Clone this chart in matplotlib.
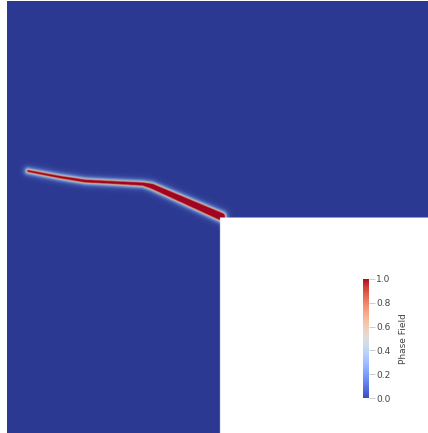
import numpy as np
import matplotlib
matplotlib.use("Agg")
import matplotlib.pyplot as plt
from matplotlib.colors import LinearSegmentedColormap

# crack path (domain coordinates, L-shape with re-entrant corner at 0.5,0.5)
crack_x = [0.049, 0.124, 0.183, 0.242, 0.319, 0.340, 0.503]
crack_y = [0.607, 0.593, 0.584, 0.581, 0.577, 0.572, 0.502]
crack_w = [0.003, 0.004, 0.005, 0.005, 0.006, 0.010, 0.016]  # red core width
cbar_ticks = [0.0, 0.2, 0.4, 0.6, 0.8, 1.0]

n = 800
xs = np.linspace(0, 1, n)
X, Y = np.meshgrid(xs, xs)
dist = np.full(X.shape, 10.0)
for i in range(len(crack_x) - 1):
    ax_, ay_ = crack_x[i], crack_y[i]
    bx, by = crack_x[i + 1], crack_y[i + 1]
    dx, dy = bx - ax_, by - ay_
    t = ((X - ax_) * dx + (Y - ay_) * dy) / (dx * dx + dy * dy)
    t = np.clip(t, 0, 1)
    w = crack_w[i] + t * (crack_w[i + 1] - crack_w[i])
    d = np.hypot(X - (ax_ + t * dx), Y - (ay_ + t * dy)) - w / 2
    dist = np.minimum(dist, d)
phi = np.exp(-np.maximum(dist, 0) / 0.004)
phi[(X > 0.5) & (Y < 0.5)] = np.nan

# shaded version of cool-to-warm for the rendered surface
base = plt.get_cmap("coolwarm")
vals = np.linspace(0, 1, 64)
cols = [tuple(np.clip(np.array(base(v)[:3]) * (0.76 + 0.14 * v), 0, 1)) for v in vals]
shaded = LinearSegmentedColormap.from_list("shaded", cols)
shaded.set_bad("white")

fig = plt.figure(figsize=(4.28, 4.33), dpi=100)
ax = fig.add_axes([7 / 428, 1 - 435 / 433, 426 / 428, 434 / 433])
ax.imshow(phi, origin="lower", extent=[0, 1, 0, 1], cmap=shaded,
          vmin=0, vmax=1, interpolation="bilinear", aspect="auto")
ax.set_xlim(0, 1)
ax.set_ylim(0, 1)
ax.axis("off")

cax = fig.add_axes([363 / 428, 1 - 398 / 433, 6 / 428, 119 / 433])
sm = plt.cm.ScalarMappable(cmap="coolwarm", norm=plt.Normalize(0, 1))
cb = fig.colorbar(sm, cax=cax, ticks=cbar_ticks)
cb.outline.set_visible(False)
cb.ax.tick_params(labelsize=6.5, length=4, width=0.5, colors="#bbbbbb",
                  labelcolor="#444444", pad=1)
cb.ax.set_yticklabels(["%.1f" % v for v in cbar_ticks])
cb.set_label("Phase Field", fontsize=6.5, color="#444444", labelpad=6)

fig.savefig("out.png", dpi=100)
